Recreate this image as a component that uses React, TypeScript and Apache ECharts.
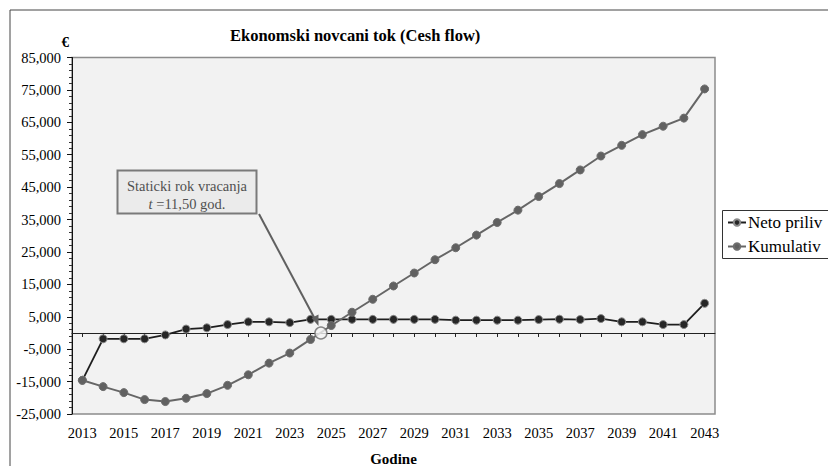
import React, { useEffect, useRef } from 'react';
import * as echarts from 'echarts';

const years = ['2013', '2014', '2015', '2016', '2017', '2018', '2019', '2020', '2021', '2022', '2023', '2024', '2025', '2026', '2027', '2028', '2029', '2030', '2031', '2032', '2033', '2034', '2035', '2036', '2037', '2038', '2039', '2040', '2041', '2042', '2043'];

const netoPriliv = [-14600, -1800, -1800, -1800, -600, 1200, 1600, 2600, 3450, 3450, 3200, 4200, 4200, 4200, 4200, 4200, 4200, 4200, 3950, 3950, 3950, 3950, 4150, 4250, 4150, 4450, 3450, 3450, 2600, 2600, 9150];

const kumulativ = [-14600, -16550, -18400, -20550, -21150, -20150, -18700, -16150, -12900, -9300, -6200, -2000, 2300, 6400, 10400, 14500, 18500, 22600, 26300, 30200, 34100, 37900, 42100, 46100, 50300, 54600, 57900, 61200, 63800, 66300, 75300];

const yMin = -25000;
const yMax = 85000;
const yStep = 10000;

const paybackPoint = [[11.5, 0]];
const annotationLines = ['Staticki rok vracanja', '=11,50 god.'];

const FONT = 'Liberation Serif';

export default function App() {
  const ref = useRef<HTMLDivElement>(null);
  useEffect(() => {
    if (!ref.current) return;
    const chart = echarts.init(ref.current, null, { renderer: 'svg' });
    const fmt = (v: number) => v.toLocaleString('en-US');
    chart.setOption({
      animation: false,
      backgroundColor: '#ffffff',
      textStyle: { fontFamily: FONT },
      title: {
        text: 'Ekonomski novcani tok (Cesh flow)',
        left: 225,
        top: 22,
        textStyle: { fontFamily: FONT, fontSize: 16.5, fontWeight: 'bold', color: '#000' },
      },
      legend: {
        orient: 'vertical',
        left: 722,
        top: 210,
        padding: [4, 10, 4, 5],
        itemGap: 7,
        itemWidth: 18,
        itemHeight: 8,
        borderWidth: 0,
        textStyle: { fontFamily: FONT, fontSize: 17, color: '#000', padding: [0, 0, 0, -3] },
        data: ['Neto priliv', 'Kumulativ'],
      },
      grid: {
        left: 72,
        top: 57.5,
        right: 113,
        bottom: 52,
        show: true,
        backgroundColor: '#f2f2f2',
        borderColor: '#8c8c8c',
        borderWidth: 1.5,
        outerBoundsMode: 'none',
        containLabel: false,
      },
      xAxis: [
        {
          type: 'category',
          data: years,
          position: 'bottom',
          boundaryGap: true,
          axisLine: { show: true, onZero: true, lineStyle: { color: '#222', width: 1 } },
          axisTick: { show: true, alignWithLabel: true, interval: 0, length: 4, lineStyle: { color: '#222' } },
          axisLabel: { show: false },
          splitLine: { show: false },
        },
        {
          type: 'category',
          data: years,
          position: 'bottom',
          boundaryGap: true,
          axisLine: { show: false, onZero: false },
          axisTick: { show: false },
          axisLabel: { show: true, interval: 1, margin: 11, fontFamily: FONT, fontSize: 14.5, color: '#000' },
          name: 'Godine',
          nameLocation: 'middle',
          nameGap: 37,
          nameTextStyle: { fontFamily: FONT, fontSize: 15, fontWeight: 'bold', color: '#000' },
        },
        {
          type: 'value',
          min: -0.5,
          max: 30.5,
          show: false,
        },
      ],
      yAxis: {
        type: 'value',
        min: yMin,
        max: yMax,
        interval: yStep,
        name: '€',
        nameLocation: 'end',
        nameGap: 8,
        nameTextStyle: { fontFamily: FONT, fontSize: 15, fontWeight: 'bold', color: '#000', align: 'right', padding: [0, 3, 0, 0] },
        axisLine: { show: true, onZero: false, lineStyle: { color: '#111', width: 1 } },
        axisTick: { show: true, length: 5, lineStyle: { color: '#111' } },
        minorTick: { show: true, splitNumber: 5, length: 3, lineStyle: { color: '#333' } },
        axisLabel: { color: '#000', margin: 11, fontFamily: FONT, fontSize: 14.5, formatter: (v: number) => fmt(v) },
        splitLine: { show: false },
      },
      series: [
        {
          name: 'Neto priliv',
          type: 'line',
          xAxisIndex: 0,
          data: netoPriliv,
          symbol: 'circle',
          symbolSize: 8,
          lineStyle: { color: '#1e1e1e', width: 1.8 },
          itemStyle: { color: '#262626', borderColor: '#8a8a8a', borderWidth: 1 },
          z: 3,
        },
        {
          name: 'Kumulativ',
          type: 'line',
          xAxisIndex: 0,
          data: kumulativ,
          symbol: 'circle',
          symbolSize: 8,
          lineStyle: { color: '#666666', width: 2 },
          itemStyle: { color: '#616161', borderColor: '#6e6e6e', borderWidth: 1 },
          z: 4,
        },
        {
          name: 'payback',
          type: 'scatter',
          xAxisIndex: 2,
          yAxisIndex: 0,
          data: paybackPoint,
          symbol: 'circle',
          symbolSize: 12,
          itemStyle: { color: '#f4f4f4', borderColor: '#6a6a6a', borderWidth: 1.5 },
          z: 6,
        },
      ],
      graphic: [
        {
          type: 'rect',
          shape: { x: 10, y: 10, width: 900, height: 600 },
          style: { fill: 'none', stroke: '#444', lineWidth: 1 },
          z: 0,
          silent: true,
        },
        {
          type: 'rect',
          shape: { x: 722.5, y: 210.5, width: 200, height: 48 },
          style: { fill: 'none', stroke: '#333', lineWidth: 1 },
          z: 0,
          silent: true,
        },
        {
          type: 'line',
          shape: { x1: 259, y1: 214, x2: 316, y2: 321 },
          style: { stroke: '#606060', lineWidth: 2 },
          z: 10,
        },
        {
          type: 'polygon',
          shape: { points: [[318.5, 326], [311.5, 318], [318.5, 314.5]] },
          style: { fill: '#606060' },
          z: 10,
        },
        {
          type: 'rect',
          shape: { x: 117.5, y: 170.5, width: 139, height: 43 },
          style: { fill: '#ebebeb', stroke: '#7a7a7a', lineWidth: 2 },
          z: 10,
        },
        {
          type: 'text',
          x: 187,
          y: 186,
          style: {
            text: annotationLines[0],
            align: 'center',
            verticalAlign: 'middle',
            fill: '#505050',
            fontFamily: FONT,
            fontSize: 14.5,
          },
          z: 11,
        },
        {
          type: 'text',
          x: 187,
          y: 204,
          style: {
            text: '{i|t} ' + annotationLines[1],
            align: 'center',
            verticalAlign: 'middle',
            fill: '#505050',
            fontFamily: FONT,
            fontSize: 14.5,
            rich: {
              i: { fontStyle: 'italic', fontFamily: FONT, fontSize: 14.5, fill: '#505050' },
            },
          },
          z: 11,
        },
      ],
    });
    return () => chart.dispose();
  }, []);
  return <div ref={ref} style={{ position: 'fixed', left: 0, top: 0, width: 828, height: 466 }} />;
}
